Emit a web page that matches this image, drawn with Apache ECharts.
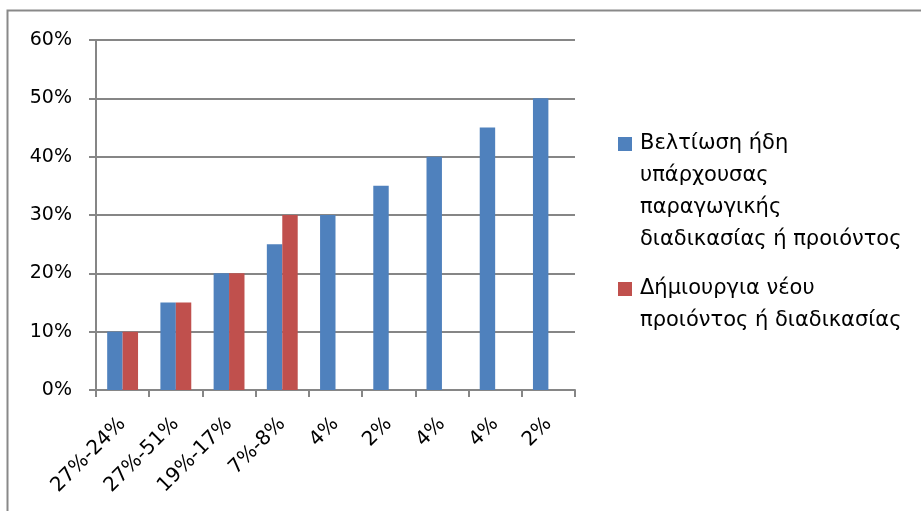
<!DOCTYPE html>
<html>
<head>
<meta charset="utf-8">
<script src="https://cdn.jsdelivr.net/npm/echarts@6/dist/echarts.min.js"></script>
<style>
  html, body { margin: 0; padding: 0; background: #fff; }
  #chart { width: 921px; height: 511px; }
</style>
</head>
<body>
<div id="chart"></div>
<script>
// Category labels along the x axis
const categories = ['27%-24%', '27%-51%', '19%-17%', '7%-8%', '4%', '2%', '4%', '4%', '2%'];

// Series names (shown in the legend, wrapped onto several lines)
const seriesNames = [
  'Βελτίωση ήδη\nυπάρχουσας\nπαραγωγικής\nδιαδικασίας ή προιόντος',
  'Δήμιουργια νέου\nπροιόντος ή διαδικασίας'
];

// Values in percent
const improvementValues = [10, 15, 20, 25, 30, 35, 40, 45, 50];
const newProductValues = [10, 15, 20, 30, null, null, null, null, null];

// Y axis scale
const yMin = 0;
const yMax = 60;
const yStep = 10;

const FONT = 'DejaVu Sans';
const TEXT = '#000000';
const LINE = '#868686';
const BLUE = '#4F81BD';
const RED = '#C0504D';

const chart = echarts.init(document.getElementById('chart'), null, { renderer: 'canvas' });

// Legend entries: the swatch sits beside the first line of a wrapped name.
// The icon path spans the full text height; only a small square near its top is filled.
const lineH = 32;
const swatch = 14;
function legendFor(name, color, firstLineCenterY) {
  const lines = name.split('\n').length;
  const h = lines * lineH;
  const y0 = lineH / 2 - swatch / 2;
  const icon = 'path://M0,0L0.01,0Z' +
    'M0,' + y0 + 'L' + swatch + ',' + y0 + 'L' + swatch + ',' + (y0 + swatch) + 'L0,' + (y0 + swatch) + 'Z' +
    'M0,' + h + 'L0.01,' + h + 'Z';
  return {
    orient: 'vertical',
    left: 618,
    top: firstLineCenterY - lineH / 2,
    padding: 0,
    itemWidth: swatch,
    itemHeight: h,
    itemGap: 0,
    symbolKeepAspect: false,
    selectedMode: false,
    icon: icon,
    data: [{ name: name, itemStyle: { color: color } }],
    textStyle: {
      fontFamily: FONT,
      fontSize: 21,
      color: TEXT,
      lineHeight: lineH,
      padding: [0, 0, 0, 3]
    }
  };
}

chart.setOption({
  animation: false,
  backgroundColor: '#ffffff',
  grid: { left: 96, right: 346, top: 40, bottom: 121 },
  legend: [
    legendFor(seriesNames[0], BLUE, 144),
    legendFor(seriesNames[1], RED, 289)
  ],
  xAxis: {
    type: 'category',
    data: categories,
    boundaryGap: true,
    axisLine: { show: true, lineStyle: { color: LINE, width: 2 } },
    axisTick: { show: true, length: 7, alignWithLabel: false, lineStyle: { color: LINE, width: 2 } },
    axisLabel: {
      interval: 0,
      rotate: 45,
      margin: 31,
      fontFamily: FONT,
      fontSize: 20,
      color: TEXT
    },
    splitLine: { show: false }
  },
  yAxis: {
    type: 'value',
    min: yMin,
    max: yMax,
    interval: yStep,
    axisLine: { show: true, lineStyle: { color: LINE, width: 2 } },
    axisTick: { show: true, length: 7, lineStyle: { color: LINE, width: 2 } },
    axisLabel: {
      formatter: '{value}%',
      margin: 24,
      fontFamily: FONT,
      fontSize: 19,
      color: TEXT
    },
    splitLine: { show: true, lineStyle: { color: LINE, width: 2 } }
  },
  series: [
    {
      name: seriesNames[0],
      type: 'bar',
      data: improvementValues,
      barGap: '0%',
      barCategoryGap: '42%',
      itemStyle: { color: BLUE }
    },
    {
      name: seriesNames[1],
      type: 'bar',
      data: newProductValues,
      barGap: '0%',
      barCategoryGap: '42%',
      itemStyle: { color: RED }
    }
  ],
  graphic: [
    {
      type: 'polyline',
      silent: true,
      shape: { points: [[7.5, 511], [7.5, 10.5], [921, 10.5]] },
      style: { stroke: '#898989', lineWidth: 2, fill: null }
    }
  ]
});
</script>
</body>
</html>
